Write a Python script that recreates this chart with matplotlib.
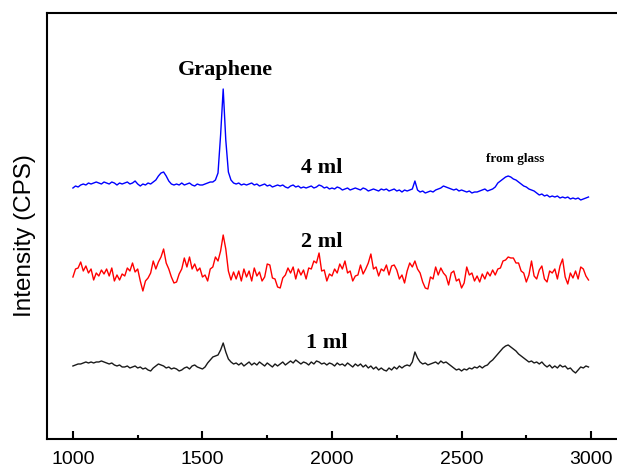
import matplotlib
matplotlib.use('Agg')
import matplotlib.pyplot as plt
from matplotlib.ticker import MultipleLocator
import numpy as np

# Raman shift grid (cm-1), one reading every 10 units
shift = np.arange(1000, 3000, 10)

# 4 ml sample (offset trace, arbitrary units)
ml4 = [251, 253, 252, 254, 255, 254, 256, 255, 256, 257,
       256, 255, 257, 256, 255, 257, 256, 254, 256, 255,
       256, 257, 255, 256, 258, 255, 253, 255, 254, 256,
       255, 257, 259, 263, 266, 267, 263, 258, 255, 254,
       255, 254, 256, 254, 255, 256, 254, 253, 255, 254,
       254, 255, 256, 257, 257, 259, 266, 304, 350, 299,
       267, 259, 256, 255, 256, 254, 255, 254, 255, 256,
       254, 255, 253, 254, 255, 253, 254, 252, 253, 254,
       253, 254, 252, 251, 253, 254, 252, 253, 251, 252,
       251, 252, 253, 251, 252, 254, 253, 251, 252, 250,
       251, 250, 252, 251, 249, 250, 251, 249, 250, 251,
       250, 249, 251, 250, 248, 249, 250, 249, 248, 250,
       249, 250, 248, 249, 250, 248, 249, 247, 249, 248,
       249, 250, 258, 249, 247, 248, 246, 247, 248, 247,
       249, 250, 251, 253, 252, 251, 250, 249, 250, 248,
       249, 248, 247, 248, 246, 247, 247, 248, 249, 250,
       248, 249, 250, 252, 256, 258, 260, 262, 263, 262,
       260, 259, 257, 255, 253, 252, 250, 249, 248, 246,
       244, 245, 243, 244, 242, 243, 242, 243, 241, 242,
       241, 242, 240, 241, 240, 241, 239, 240, 241, 242]

# 2 ml sample
ml2 = [162, 170, 171, 177, 168, 173, 166, 170, 159, 166,
       163, 169, 165, 170, 163, 171, 158, 164, 159, 165,
       163, 171, 168, 176, 167, 170, 158, 148, 158, 161,
       166, 178, 170, 177, 182, 190, 176, 170, 162, 156,
       157, 165, 170, 181, 172, 182, 170, 175, 168, 171,
       162, 164, 158, 170, 172, 182, 178, 188, 204, 190,
       168, 159, 167, 160, 168, 158, 170, 162, 168, 158,
       171, 163, 167, 158, 162, 175, 174, 161, 160, 152,
       151, 161, 164, 171, 166, 172, 160, 170, 164, 169,
       160, 171, 170, 178, 176, 186, 168, 169, 158, 165,
       163, 170, 166, 175, 170, 178, 166, 168, 158, 163,
       164, 174, 165, 170, 176, 185, 170, 172, 163, 170,
       168, 174, 164, 173, 174, 169, 160, 164, 156, 168,
       176, 172, 178, 170, 166, 157, 151, 150, 162, 160,
       172, 164, 171, 166, 163, 154, 166, 168, 158, 160,
       151, 156, 172, 164, 166, 158, 163, 157, 165, 160,
       167, 163, 169, 164, 170, 171, 178, 179, 182, 181,
       181, 176, 176, 168, 166, 157, 164, 178, 163, 160,
       169, 173, 160, 157, 168, 166, 170, 160, 173, 180,
       162, 155, 166, 161, 168, 160, 172, 170, 163, 159]

# 1 ml sample
ml1 = [73, 74, 75, 75, 76, 77, 76, 77, 76, 77,
       77, 78, 77, 76, 75, 76, 74, 73, 74, 72,
       72, 73, 71, 72, 73, 71, 72, 70, 71, 69,
       68, 71, 73, 75, 74, 73, 71, 72, 70, 71,
       70, 68, 69, 71, 72, 70, 73, 74, 72, 71,
       70, 72, 76, 79, 82, 83, 84, 89, 96, 87,
       80, 77, 75, 76, 74, 76, 73, 75, 77, 74,
       76, 74, 77, 75, 73, 76, 74, 72, 75, 73,
       75, 77, 74, 76, 78, 76, 79, 77, 75, 77,
       76, 74, 77, 75, 78, 77, 75, 76, 74, 76,
       75, 73, 76, 74, 75, 73, 76, 74, 72, 75,
       73, 75, 72, 74, 71, 73, 70, 72, 69, 71,
       69, 68, 71, 69, 72, 70, 73, 71, 73, 74,
       73, 77, 87, 81, 77, 75, 76, 74, 75, 76,
       77, 75, 78, 76, 77, 75, 73, 71, 69, 70,
       68, 70, 69, 71, 70, 72, 71, 73, 71, 73,
       74, 77, 79, 82, 85, 88, 91, 93, 94, 92,
       90, 88, 85, 83, 81, 79, 77, 78, 76, 77,
       75, 77, 74, 72, 74, 71, 73, 71, 74, 72,
       73, 70, 71, 68, 66, 69, 72, 71, 73, 72]

xticks = [1000, 1500, 2000, 2500, 3000]

fig = plt.figure(figsize=(6.17, 4.70), dpi=100)
ax = fig.add_axes([0.0762, 0.066, 0.9238, 0.9063])

ax.plot(shift, ml4, color='#0000ff', lw=1.0)
ax.plot(shift, ml2, color='#ff0000', lw=1.0)
ax.plot(shift, ml1, color='#1a1a1a', lw=1.0)

serif = dict(family='Liberation Serif', fontweight='bold')
ax.text(1587, 369, 'Graphene', ha='center', va='center', fontsize=16, **serif)
ax.text(1961, 271, '4 ml', ha='center', va='center', fontsize=16, **serif)
ax.text(1961, 197, '2 ml', ha='center', va='center', fontsize=16, **serif)
ax.text(1981, 96, '1 ml', ha='center', va='center', fontsize=16, **serif)
ax.text(2707, 280, 'from glass', ha='center', va='center', fontsize=9.5, **serif)

ax.set_xlim(900, 3100)
ax.set_ylim(0, 426)
ax.set_xticks(xticks)
ax.xaxis.set_minor_locator(MultipleLocator(250))
ax.set_yticks([])
ax.tick_params(axis='x', which='major', direction='in', length=6, width=1.5, pad=9,
               labelsize=14, labelfontfamily='Liberation Sans')
ax.tick_params(axis='x', which='minor', direction='in', length=3, width=1.5)
ax.spines['right'].set_visible(False)
for s in ['left', 'bottom', 'top']:
    ax.spines[s].set_linewidth(1.5)

fig.text(25 / 617, 1 - 236 / 470, 'Intensity (CPS)', rotation=90, ha='center', va='center',
         fontsize=17.5, family='Liberation Sans')

fig.savefig('out.png', dpi=100)
